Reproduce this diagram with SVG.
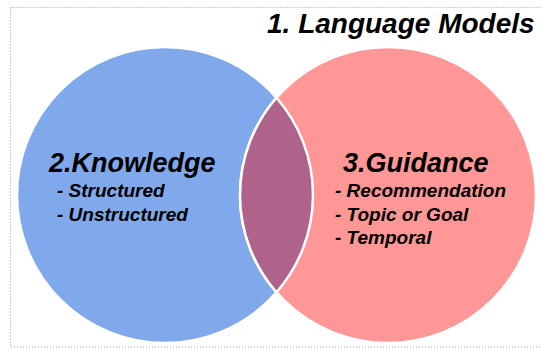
<svg xmlns="http://www.w3.org/2000/svg" width="542" height="349" viewBox="0 0 542 349">
<style>
.t{font-family:"Liberation Sans",Arial,sans-serif;font-weight:bold;font-style:italic;fill:#000}
.h{font-size:27px}
.s{font-size:19px}
.c{stroke:#fff;stroke-width:2.5}
</style>
<rect x="10.5" y="7.5" width="545" height="339.5" fill="none" stroke="#9a9a9a" stroke-width="1" stroke-dasharray="1 2"/>
<g id="lm">
<text class="t" x="267" y="33" style="font-size:28px">1. Language Models</text>
</g>
<g id="knowledge">
<circle class="c" cx="165" cy="195" r="148" fill="#80A9EC"/>
</g>
<g id="guidance">
<circle class="c" cx="388" cy="195" r="148" fill="#FF9797"/>
</g>
<g id="overlap">
<path class="c" d="M276.5 97.7 A148 148 0 0 1 276.5 292.3 A148 148 0 0 1 276.5 97.7 Z" fill="#B0638A"/>
</g>
<g id="knowledge-text">
<text class="t h" x="49" y="172">2.Knowledge</text>
<text class="t s" x="57" y="197">- Structured</text>
<text class="t s" x="57" y="221">- Unstructured</text>
</g>
<g id="guidance-text">
<text class="t h" x="343" y="172">3.Guidance</text>
<text class="t s" x="335" y="197">- Recommendation</text>
<text class="t s" x="335" y="221">- Topic or Goal</text>
<text class="t s" x="335" y="244">- Temporal</text>
</g>
<g id="connectors"/>
</svg>
